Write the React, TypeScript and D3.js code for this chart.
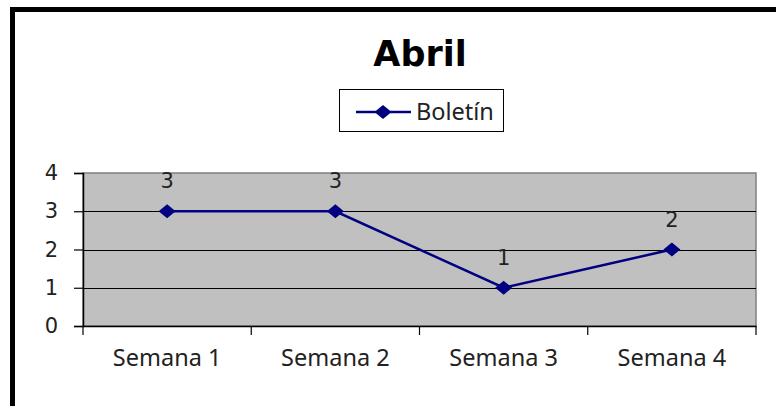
import React, { useEffect, useRef } from 'react';
import * as d3 from 'd3';

const weeks = ['Semana 1', 'Semana 2', 'Semana 3', 'Semana 4'];
const boletin = [3, 3, 1, 2];
const yTicks = [0, 1, 2, 3, 4];
const seriesName = 'Boletín';
const title = 'Abril';

const App = () => {
  const ref = useRef<SVGSVGElement>(null);

  useEffect(() => {
    const width = 776;
    const height = 406;
    const plot = { left: 83, right: 756, top: 173, bottom: 326 };
    const navy = '#000080';

    const svg = d3.select(ref.current);
    svg.selectAll('*').remove();
    svg.attr('width', width).attr('height', height);

    svg.append('rect').attr('width', width).attr('height', height).attr('fill', '#fff');

    // outer frame (runs off right and bottom)
    svg
      .append('rect')
      .attr('x', 12.5)
      .attr('y', 9.5)
      .attr('width', width + 20)
      .attr('height', height + 20)
      .attr('fill', 'none')
      .attr('stroke', '#000')
      .attr('stroke-width', 5);

    svg
      .append('text')
      .attr('x', 420)
      .attr('y', 66)
      .attr('text-anchor', 'middle')
      .attr('font-family', 'DejaVu Sans')
      .attr('font-weight', 'bold')
      .attr('font-size', 35)
      .attr('fill', '#000')
      .text(title);

    const xScale = d3.scaleBand().domain(weeks).range([plot.left, plot.right]);
    const yScale = d3.scaleLinear().domain([0, 4]).range([plot.bottom, plot.top]);
    const cx = (d: string) => (xScale(d) as number) + xScale.bandwidth() / 2;

    // plot area
    svg
      .append('rect')
      .attr('x', plot.left)
      .attr('y', plot.top)
      .attr('width', plot.right - plot.left)
      .attr('height', plot.bottom - plot.top)
      .attr('fill', '#c0c0c0')
      .attr('stroke', '#808080')
      .attr('stroke-width', 1.5);

    svg
      .append('g')
      .selectAll('line')
      .data(yTicks.filter(t => t > 0 && t < 4))
      .join('line')
      .attr('x1', plot.left)
      .attr('x2', plot.right)
      .attr('y1', d => Math.round(yScale(d)) + 0.5)
      .attr('y2', d => Math.round(yScale(d)) + 0.5)
      .attr('stroke', '#000')
      .attr('stroke-width', 1);

    // y axis
    const yAxis = svg
      .append('g')
      .attr('transform', `translate(${plot.left},0)`)
      .call(d3.axisLeft(yScale).tickValues(yTicks).tickSize(9).tickPadding(16).tickFormat(d3.format('d')));
    yAxis.select('.domain').attr('stroke', '#000').attr('stroke-width', 1.5);
    yAxis.selectAll('.tick line').attr('stroke', '#000').attr('stroke-width', 1.2);
    yAxis
      .selectAll('.tick text')
      .attr('font-family', 'DejaVu Sans')
      .attr('font-size', 21)
      .attr('fill', '#222');

    // x axis
    const xAxis = svg
      .append('g')
      .attr('transform', `translate(0,${plot.bottom})`)
      .call(d3.axisBottom(xScale).tickSize(0).tickPadding(23));
    xAxis.select('.domain').attr('stroke', '#000').attr('stroke-width', 1.5);
    xAxis
      .selectAll('.tick text')
      .attr('font-family', 'Noto Sans')
      .attr('font-size', 23.5)
      .attr('fill', '#222');

    const bounds = weeks.map(d => xScale(d) as number).concat([plot.right]);
    svg
      .append('g')
      .selectAll('line')
      .data(bounds)
      .join('line')
      .attr('x1', d => d)
      .attr('x2', d => d)
      .attr('y1', plot.bottom)
      .attr('y2', plot.bottom + 9)
      .attr('stroke', '#000')
      .attr('stroke-width', 1.2);

    const pts = weeks.map((w, i) => ({ w, v: boletin[i] }));
    const line = d3
      .line<{ w: string; v: number }>()
      .x(d => cx(d.w))
      .y(d => yScale(d.v));

    svg
      .append('path')
      .datum(pts)
      .attr('fill', 'none')
      .attr('stroke', navy)
      .attr('stroke-width', 2.5)
      .attr('d', line);

    const diamond = (x: number, y: number) => `M${x},${y - 7}L${x + 8.5},${y}L${x},${y + 7}L${x - 8.5},${y}Z`;

    svg
      .append('g')
      .selectAll('path')
      .data(pts)
      .join('path')
      .attr('d', d => diamond(cx(d.w), yScale(d.v)))
      .attr('fill', navy);

    svg
      .append('g')
      .selectAll('text')
      .data(pts)
      .join('text')
      .attr('x', d => cx(d.w))
      .attr('y', d => yScale(d.v) - 23)
      .attr('text-anchor', 'middle')
      .attr('font-family', 'DejaVu Sans')
      .attr('font-size', 21)
      .attr('fill', '#222')
      .text(d => d.v);

    // legend
    const lg = svg.append('g');
    lg.append('rect')
      .attr('x', 339.5)
      .attr('y', 89.5)
      .attr('width', 164)
      .attr('height', 42)
      .attr('fill', '#fff')
      .attr('stroke', '#000')
      .attr('stroke-width', 1);
    lg.append('line')
      .attr('x1', 356)
      .attr('x2', 411)
      .attr('y1', 112)
      .attr('y2', 112)
      .attr('stroke', navy)
      .attr('stroke-width', 2.5);
    lg.append('path').attr('d', diamond(383, 112)).attr('fill', navy);
    lg.append('text')
      .attr('x', 416)
      .attr('y', 120)
      .attr('font-family', 'Noto Sans')
      .attr('font-size', 23.5)
      .attr('fill', '#222')
      .text(seriesName);
  }, []);

  return <svg ref={ref} style={{ position: 'absolute', left: 0, top: 0 }} />;
};

export default App;
